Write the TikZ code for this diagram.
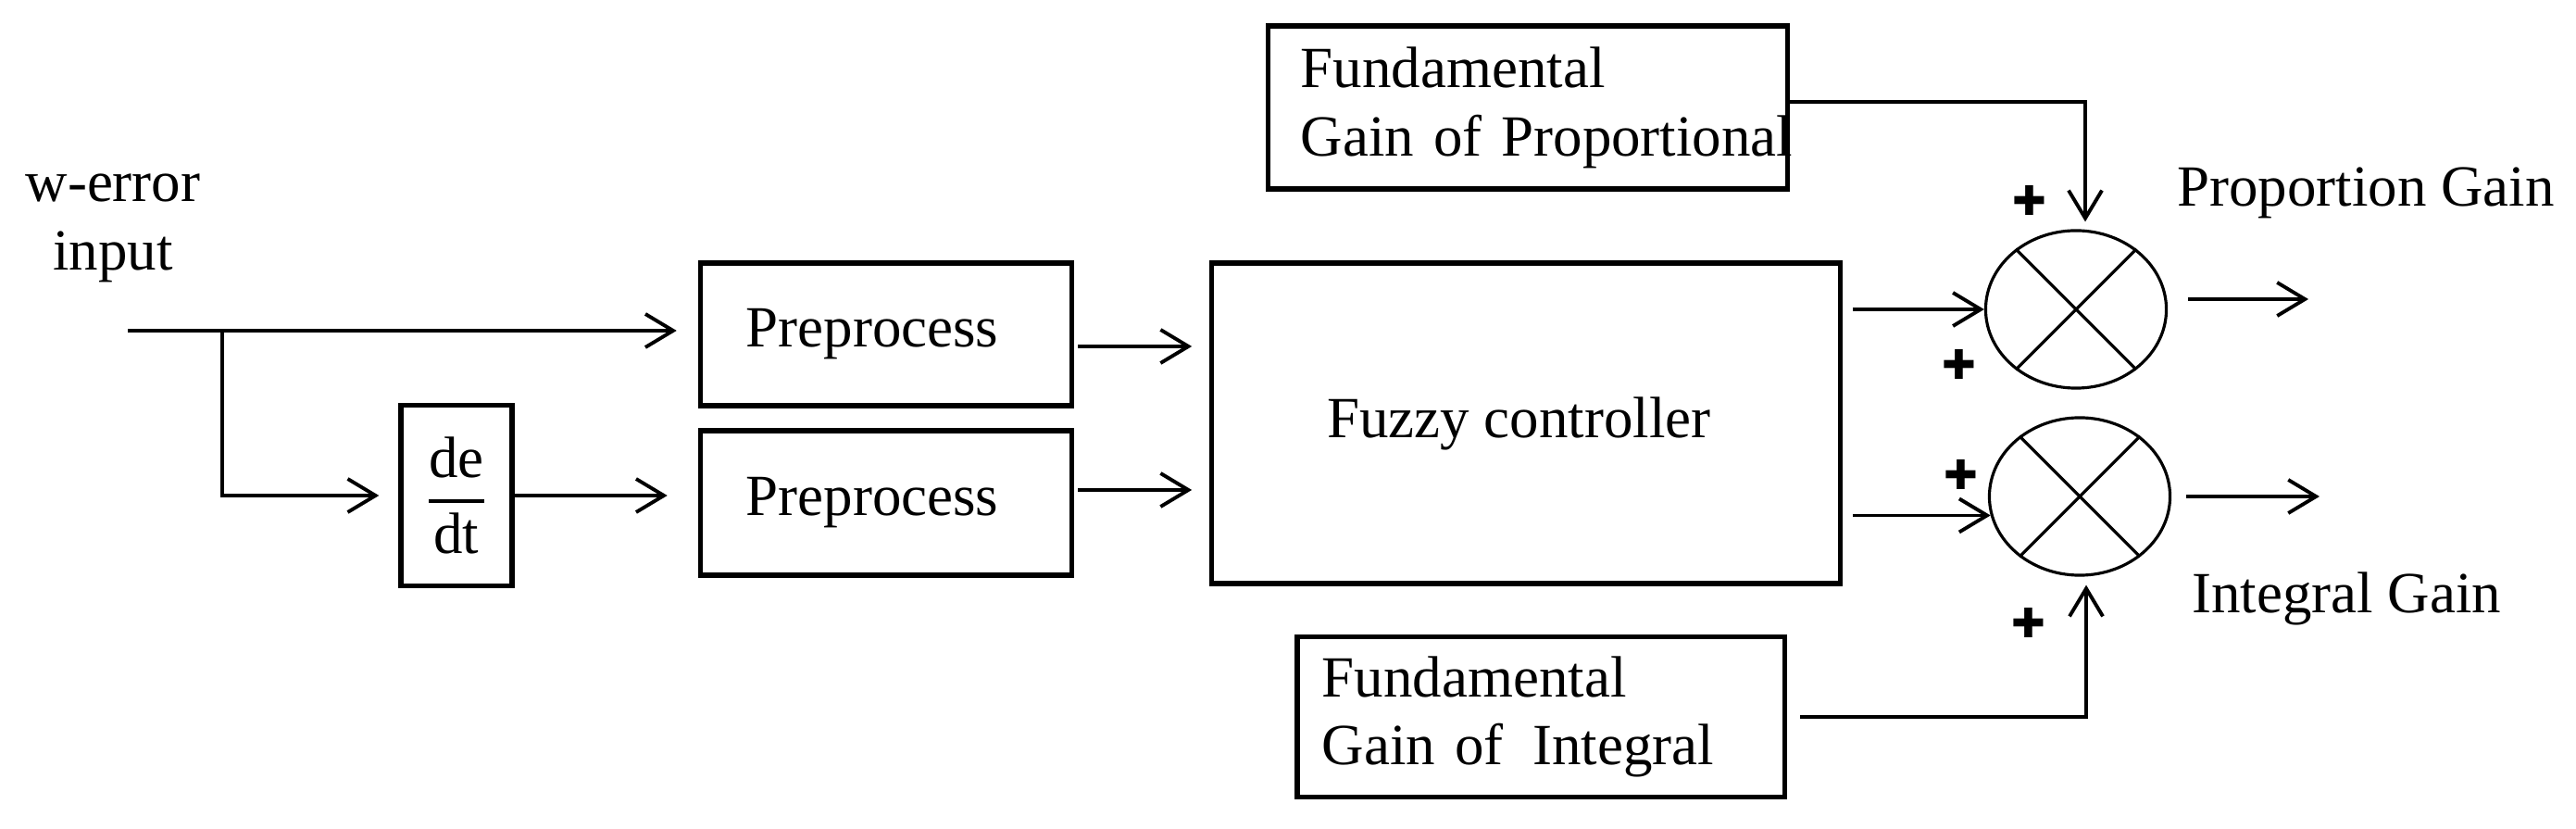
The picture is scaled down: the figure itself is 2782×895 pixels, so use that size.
\documentclass[tikz,border=0pt]{standalone}
\usepackage{fontspec}
\setmainfont{Liberation Serif}
\newfontfamily\crossfont{DejaVu Sans}
\usetikzlibrary{arrows.meta,shapes.geometric}

\begin{document}
\begin{tikzpicture}[x=0.01cm,y=-0.01cm,
  font=\fontsize{17.9}{21}\selectfont,
  block/.style={draw,line width=1.5pt,inner sep=0pt},
  gainbox/.style={block,align=left},
  mult/.style={draw,ellipse,line width=0.9pt,minimum width=1.95cm,minimum height=1.7cm,inner sep=0pt},
  sign/.style={inner sep=0pt,font=\fontsize{12.5}{12.5}\crossfont},
  wire/.style={line width=1.1pt},
  arr/.style={wire,-{Straight Barb[length=3mm,width=3.6mm]}}]
\useasboundingbox (0,0) rectangle (2782,895);

% input side
\node (win) [align=center] at (122,246) {w-error\\input};
\node (ddt) [block,minimum width=1.2cm,minimum height=1.95cm] at (493,535) {$\displaystyle{\hbox{de}\above 1pt\hbox{dt}}$};
\node (pre1) [block,minimum width=4.01cm,minimum height=1.54cm] at (957,361) {Preprocess\hspace*{0.3cm}};
\node (pre2) [block,minimum width=4.01cm,minimum height=1.56cm] at (957,543) {Preprocess\hspace*{0.3cm}};
\node (fuzzy) [block,minimum width=6.78cm,minimum height=3.46cm] at (1648,457) {Fuzzy controller\hspace*{0.15cm}};

% gain boxes
\node (fgp) [gainbox,text width=4.9cm,inner xsep=0.35cm,minimum height=1.76cm] at (1650,116) {Fundamental\\\mbox{Gain of Proportional}};
\node (fgi) [gainbox,text width=4.72cm,inner xsep=0.27cm,minimum height=1.73cm] at (1664,774) {Fundamental\\Gain of\enspace Integral};

% multipliers
\node (m1) [mult] at (2242,334) {};
\node (m2) [mult] at (2246,536) {};
\foreach \m in {m1,m2}
  \draw[line width=0.9pt] (\m.45) -- (\m.225) (\m.135) -- (\m.315);

% signs
\node (sg1) [sign] at (2192,216) {✚};
\node (sg2) [sign] at (2116,393) {✚};
\node (sg3) [sign] at (2118,512) {✚};
\node (sg4) [sign] at (2191,672) {✚};

% outputs
\node (pg) at (2555,208) {Proportion Gain};
\node (ig) at (2534,646) {Integral Gain};

% connectors
\coordinate (wst) at (138,357);
\coordinate (br) at (240,357);
\draw[arr,shorten >=0.23cm] (wst) -- (wst -| pre1.west);
\draw[arr,shorten >=0.21cm] (br) |- (ddt.west);
\draw[arr,shorten >=0.33cm] (ddt.east) -- (ddt.east -| pre2.west);
\coordinate (q1) at ([shift={(4,13)}]pre1.east);
\coordinate (q2) at ([shift={(4,-14)}]pre2.east);
\draw[arr,shorten >=0.19cm] (q1) -- (q1 -| fuzzy.west);
\draw[arr,shorten >=0.19cm] (q2) -- (q2 -| fuzzy.west);
\coordinate (r1) at (fuzzy.east |- m1.west);
\coordinate (r2) at (fuzzy.east |- m2.192);
\draw[arr,shorten <=0.11cm] (r1) -- (m1.west);
\draw[arr,shorten <=0.11cm] (r2) -- (m2.192);
\coordinate (s1) at ([yshift=0.06cm]fgp.east);
\coordinate (t1) at ([xshift=0.1cm]m1.north);
\coordinate (t2) at ([xshift=0.07cm]m2.south);
\draw[arr,shorten >=0.08cm] (s1) -| (t1);
\draw[arr,shorten <=0.14cm,shorten >=0.09cm] (fgi.east) -| (t2);
\coordinate (u1) at (2493,323);
\coordinate (u2) at (2505,536);
\draw[arr,shorten <=0.22cm] (m1.east |- u1) -- (u1);
\draw[arr,shorten <=0.16cm] (m2.east) -- (u2);
\end{tikzpicture}
\end{document}
